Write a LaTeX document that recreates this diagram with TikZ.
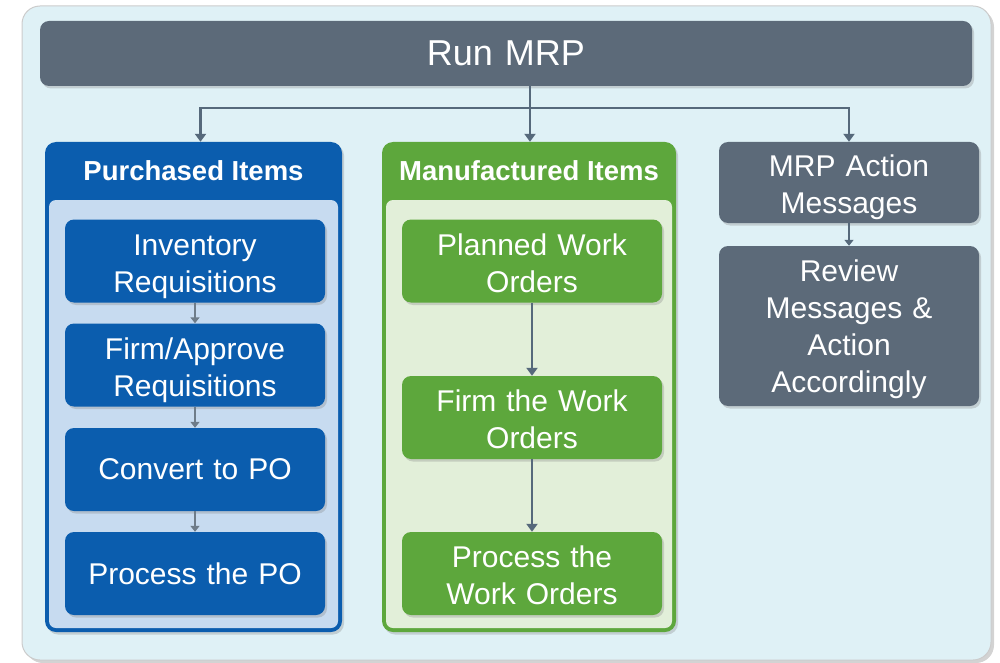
\documentclass[tikz,border=0pt]{standalone}
\usepackage{fontspec}
\setmainfont{Liberation Sans}
\usetikzlibrary{arrows.meta,shadows}

\definecolor{bgblue}{HTML}{DFF1F6}
\definecolor{slate}{HTML}{5C6A79}
\definecolor{deepblue}{HTML}{0B5DAE}
\definecolor{paleblue}{HTML}{C7DBF0}
\definecolor{leafgreen}{HTML}{5DA73C}
\definecolor{palegreen}{HTML}{E2EFD9}
\definecolor{arrowgray}{HTML}{56697B}
\definecolor{tipgray}{HTML}{6E7C89}

\begin{document}
\begin{tikzpicture}[x=1pt, y=-1pt,
        shade/.style={drop shadow={shadow xshift=2pt, shadow yshift=-2.5pt, opacity=0.3}},
        box/.style={rectangle, rounded corners=9pt, fill=deepblue, text=white, text width=250pt, align=center, minimum width=260pt, minimum height=83pt, inner sep=0pt, font=\fontsize{30}{37}\selectfont, shade},
        goodbox/.style={box, fill=leafgreen},
        msgbox/.style={box, fill=slate},
        twolines/.style={text height=22pt, text depth=34pt},
        group/.style={rectangle, rounded corners=11pt, fill=deepblue, minimum width=297pt, minimum height=490pt, inner sep=0pt, shade},
        pane/.style={rectangle, rounded corners=7pt, fill=paleblue, minimum width=289pt, minimum height=428pt, inner sep=0pt},
        title/.style={text=white, font=\fontsize{27.5}{33}\selectfont\bfseries},
        arrow/.style={-{Triangle[length=8pt, width=11pt]}, line width=2.2pt, draw=arrowgray},
        smallarrow/.style={-{Triangle[length=6pt, width=9pt]}, line width=2pt, draw=tipgray}
    ]
    \useasboundingbox (0,0) rectangle (1000,663);

    % Background panel
    \node[rectangle, rounded corners=18pt, fill=bgblue, draw=black!20, line width=1pt, minimum width=969pt, minimum height=654pt, inner sep=0pt,
          drop shadow={shadow xshift=3pt, shadow yshift=-3pt, opacity=0.35}] (panel) at (506.5,333) {};

    % Top bar
    \node[msgbox, text width=930pt, minimum width=932pt, minimum height=65pt, font=\fontsize{36}{43}\selectfont] (run) at (506,53.5) {Run MRP};

    % Purchased Items (left)
    \node[group] (pbox) at (193.5,387) {};
    \node[pane] (ppane) at (193.5,414) {};
    \node[title] (ptitle) at (193.5,171) {Purchased Items};

    \node[box, twolines] (p1) at (195,261) {Inventory\\Requisitions};
    \node[box, twolines] (p2) at (195,365) {Firm/Approve\\Requisitions};
    \node[box] (p3) at (195,469.5) {Convert to PO};
    \node[box] (p4) at (195,573.5) {Process the PO};

    % Manufactured Items (middle)
    \node[group, fill=leafgreen, minimum width=294pt] (mbox) at (529,387) {};
    \node[pane, fill=palegreen, minimum width=286pt] (mpane) at (529,414) {};
    \node[title] (mtitle) at (529,171) {Manufactured Items};

    \node[goodbox, twolines] (m1) at (532,261) {Planned Work\\Orders};
    \node[goodbox, twolines] (m2) at (532,417.5) {Firm the Work\\Orders};
    \node[goodbox, twolines] (m3) at (532,573.5) {Process the\\Work Orders};

    % Action messages (right)
    \node[msgbox, twolines, minimum height=81pt] (a1) at (849,182.5) {MRP Action\\Messages};
    \node[msgbox, text height=22pt, text depth=112pt, minimum height=160pt] (a2) at (849,326) {Review\\Messages \&\\Action\\Accordingly};

    % Connectors
    \coordinate (split) at (530,108);
    \draw[line width=2.2pt, draw=arrowgray] (run.south -| split) -- (split);
    \draw[arrow] (split) -| ([xshift=7pt]pbox.north);
    \draw[arrow] (split) -- (split |- mbox.north);
    \draw[arrow] (split) -| (a1.north);

    \draw[smallarrow] (p1) -- (p2);
    \draw[smallarrow] (p2) -- (p3);
    \draw[smallarrow] (p3) -- (p4);

    \draw[arrow] (m1) -- (m2);
    \draw[arrow] (m2) -- (m3);

    \draw[smallarrow, draw=arrowgray] (a1) -- (a2);

    \end{tikzpicture}
\end{document}
